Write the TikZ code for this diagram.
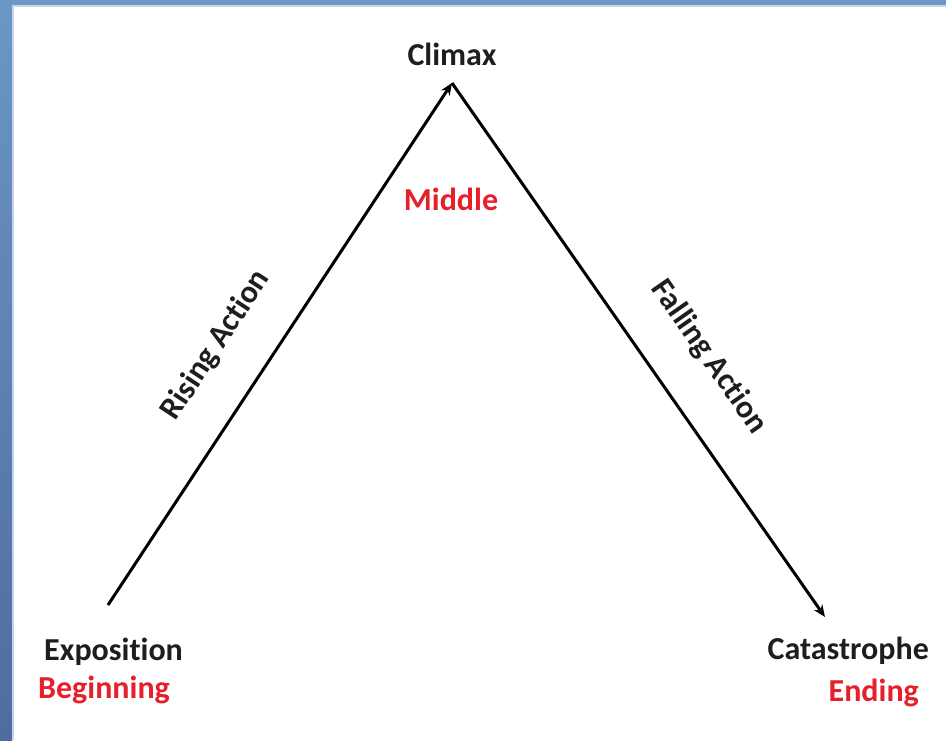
\documentclass[tikz,border=0pt]{standalone}
\usepackage{fontspec}
\usetikzlibrary{arrows.meta}
\setmainfont{Carlito}[Ligatures=NoCommon]
\definecolor{frameblue}{HTML}{6B96C6}
\definecolor{frameblue2}{HTML}{4F6C9E}
\definecolor{txtred}{HTML}{E5202A}
\definecolor{txtblack}{HTML}{1E1E1E}
\begin{document}
\begin{tikzpicture}[x=1pt,y=-1pt,
  lbl/.style={font=\bfseries\fontsize{32}{36}\selectfont, text=txtblack, inner sep=0pt},
  rlbl/.style={font=\bfseries\fontsize{32}{36}\selectfont, text=txtred, inner sep=0pt},
  arr/.style={line width=3pt, draw=black, -{Stealth[length=12pt,width=10pt]}}]
\useasboundingbox (0,0) rectangle (946,740);
\fill[white] (0,0) rectangle (946,740);
\shade[top color=frameblue, bottom color=frameblue2] (0,0) rectangle (12,740);
\fill[frameblue] (0,0) rectangle (946,5);
\fill[frameblue!40] (12,5) rectangle (946,7);
\fill[frameblue!40] (12,5) rectangle (14,740);
\coordinate (start) at (108,605);
\coordinate (apex) at (452,83);
\coordinate (end) at (825,617);
\draw[arr] (start) -- (apex);
\draw[arr] (apex) -- (end);
\node[lbl] (climax) at (452,54) {Climax};
\node[rlbl] (middle) at (451,199) {Middle};
\node[lbl, rotate=56.7] (rising) at (216,345) {Rising Action};
\node[lbl, rotate=-55.1] (falling) at (709,357) {Falling Action};
\node[lbl, anchor=west] (expo) at (44,652) {Exposition};
\node[rlbl, anchor=west] (begin) at (38,690) {Beginning};
\node[lbl, anchor=east] (cat) at (929,651) {Catastrophe};
\node[rlbl, anchor=east] (ending) at (919,693) {Ending};
\end{tikzpicture}
\end{document}
